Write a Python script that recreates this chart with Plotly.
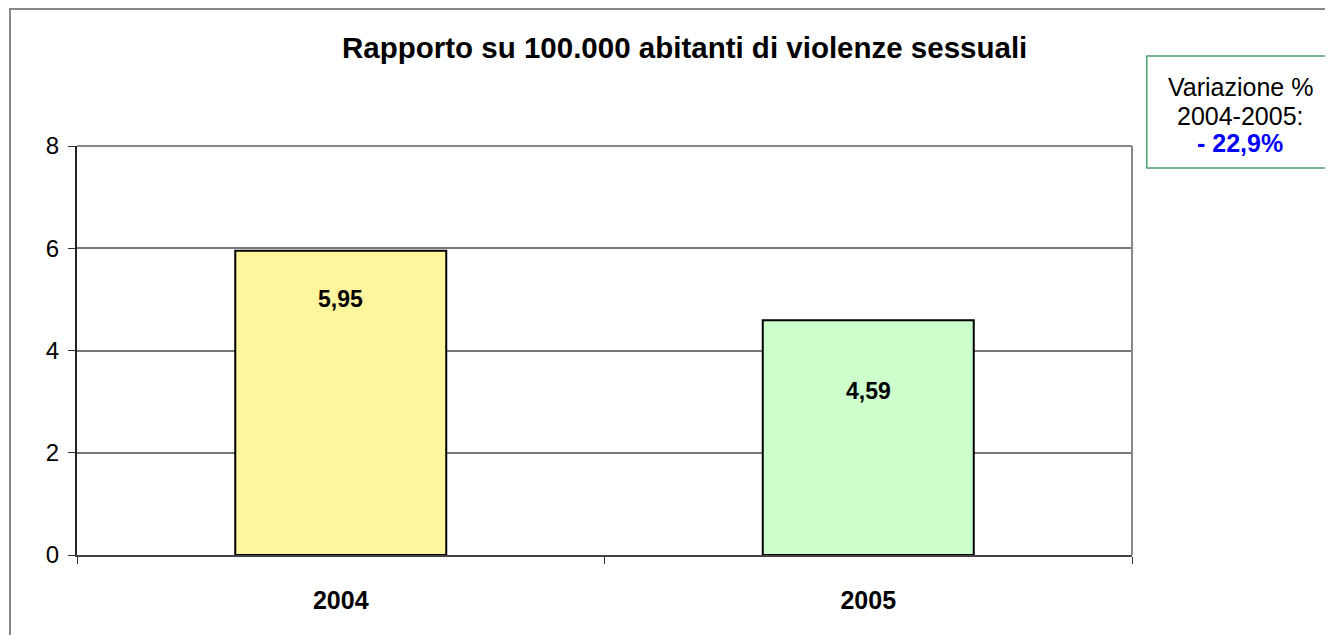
import plotly.graph_objects as go

anni = ["2004", "2005"]
valori = [5.95, 4.59]
etichette = ["5,95", "4,59"]
colori = ["#FFF59C", "#CCFFCC"]
# vertical position of the value labels
pos_etichette = [5.0, 3.2]

titolo = "Rapporto su 100.000 abitanti di violenze sessuali"
y_ticks = [0, 2, 4, 6, 8]
box_righe = ["Variazione %", "2004-2005:", "<b><span style='color:#0000FF'>- 22,9%</span></b>"]

FONT = "Liberation Sans, Arial"

fig = go.Figure(go.Bar(
    x=anni, y=valori,
    marker=dict(color=colori, line=dict(color="black", width=2)),
    width=0.4,
    hoverinfo="skip",
))

for i, (lab, py) in enumerate(zip(etichette, pos_etichette)):
    fig.add_annotation(x=i, y=py, text="<b>" + lab + "</b>", showarrow=False,
                       xanchor="center", yanchor="middle",
                       font=dict(family=FONT, size=23, color="black"))

# outer frame of the chart
fig.add_shape(type="rect", xref="paper", yref="paper",
              x0=-0.0635, x1=1.3, y0=-0.3, y1=1.335,
              line=dict(color="#888888", width=2), layer="below")

# box with the percentage change
fig.add_shape(type="rect", xref="paper", yref="paper",
              x0=1.014, x1=1.1886, y0=0.946, y1=1.22,
              line=dict(color="#4CA36E", width=1.5))
for riga, py in zip(box_righe, [1.144, 1.073, 1.007]):
    fig.add_annotation(xref="paper", yref="paper", x=1.1024, y=py,
                       xanchor="center", yanchor="middle",
                       text=riga, showarrow=False,
                       font=dict(family=FONT, size=25, color="black"))

fig.update_layout(
    width=1325, height=627,
    margin=dict(l=69, r=201, t=138, b=80),
    paper_bgcolor="white", plot_bgcolor="white",
    font=dict(family=FONT, color="black"),
    title=dict(text="<b>" + titolo + "</b>", x=0.576, xref="paper", xanchor="center",
               y=0.936, yanchor="middle",
               font=dict(size=29.5, color="black")),
    showlegend=False,
    xaxis=dict(
        type="category",
        showgrid=False, zeroline=False,
        ticks="outside", tickson="boundaries", ticklen=7, tickcolor="#333333",
        showline=True, linecolor="#444444", linewidth=2, mirror=False,
        tickfont=dict(size=25, family=FONT),
        tickprefix="<b>", ticksuffix="</b>",
        ticklabelstandoff=22,
        range=[-0.5, 1.5],
    ),
    yaxis=dict(
        range=[0, 8], tickvals=y_ticks,
        showgrid=True, gridcolor="#777777", gridwidth=1.5,
        zeroline=False,
        ticks="outside", ticklen=7, tickcolor="#333333",
        showline=True, linecolor="#222222", linewidth=2,
        tickfont=dict(size=24), ticklabelstandoff=4,
    ),
)

# top and right sides of the plot box in gray
fig.add_shape(type="line", xref="paper", yref="paper", x0=0, x1=1, y0=1, y1=1,
              line=dict(color="#888888", width=2))
fig.add_shape(type="line", xref="paper", yref="paper", x0=1, x1=1, y0=0, y1=1,
              line=dict(color="#888888", width=2))

fig.write_html("out.html")
